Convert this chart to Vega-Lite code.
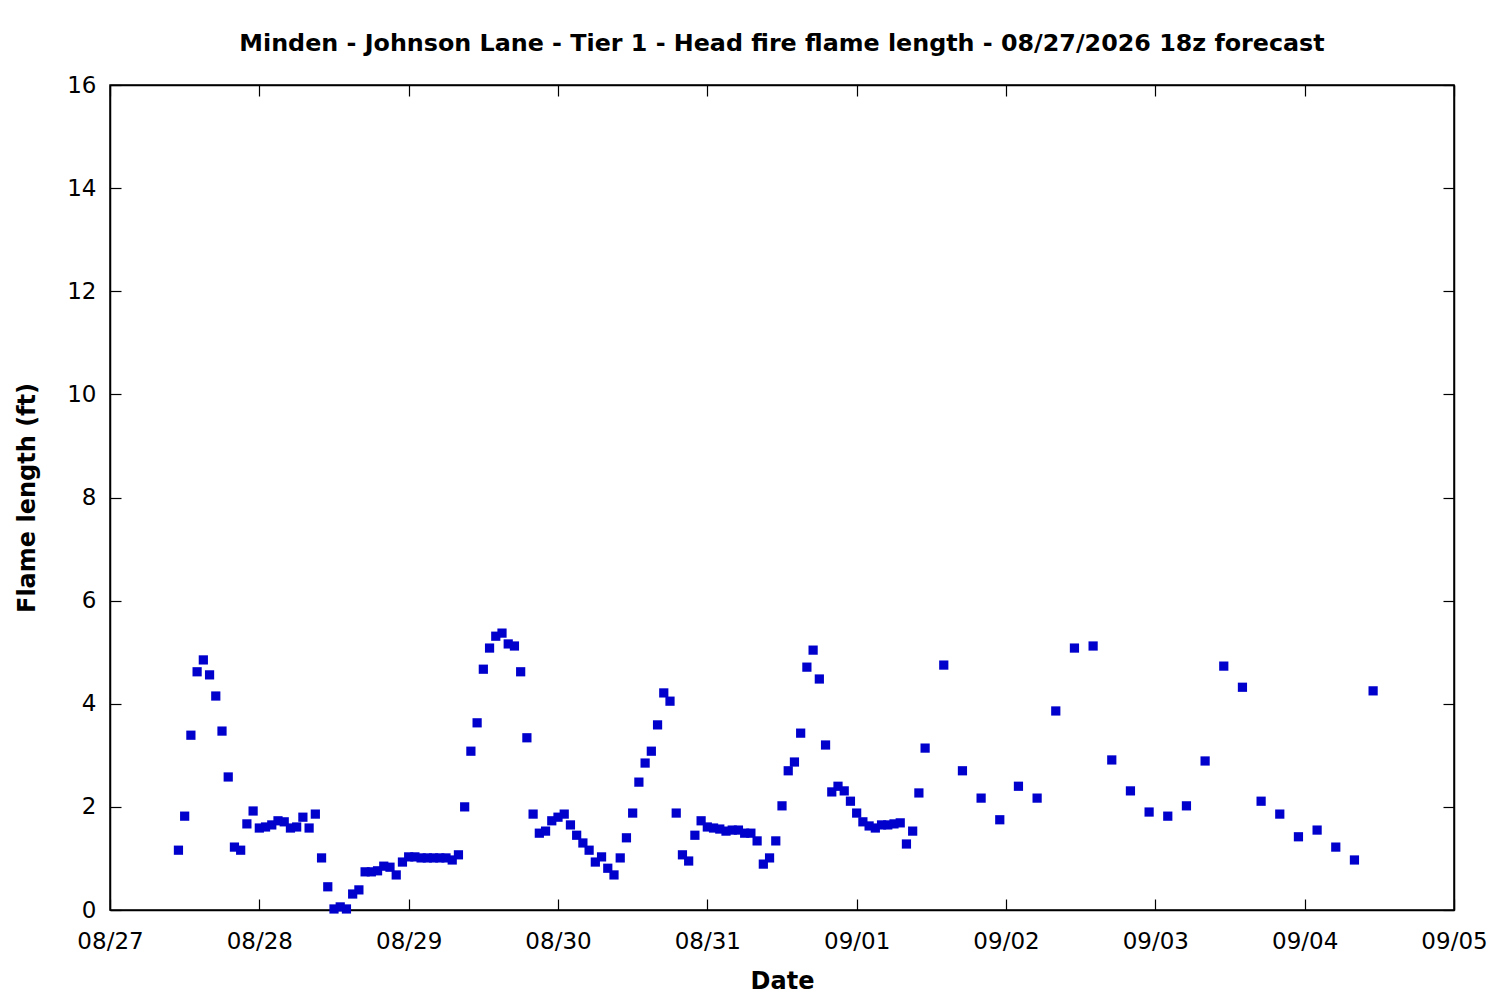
{
  "$schema": "https://vega.github.io/schema/vega-lite/v6.json",
  "autosize": "none",
  "width": 1344,
  "height": 825,
  "padding": {"left": 110, "top": 85, "right": 46, "bottom": 90},
  "background": "white",
  "title": {
    "text": "Minden - Johnson Lane - Tier 1 - Head fire flame length - 08/27/2026 18z forecast",
    "font": "DejaVu Sans",
    "fontSize": 23.8,
    "fontWeight": "bold",
    "color": "black",
    "anchor": "middle",
    "offset": 18
  },
  "data": {
    "values": [
      {"time": "2026-08-27T11:00", "flame": 1.16},
      {"time": "2026-08-27T12:00", "flame": 1.82},
      {"time": "2026-08-27T13:00", "flame": 3.39},
      {"time": "2026-08-27T14:00", "flame": 4.62},
      {"time": "2026-08-27T15:00", "flame": 4.85},
      {"time": "2026-08-27T16:00", "flame": 4.56},
      {"time": "2026-08-27T17:00", "flame": 4.15},
      {"time": "2026-08-27T18:00", "flame": 3.47},
      {"time": "2026-08-27T19:00", "flame": 2.58},
      {"time": "2026-08-27T20:00", "flame": 1.22},
      {"time": "2026-08-27T21:00", "flame": 1.16},
      {"time": "2026-08-27T22:00", "flame": 1.67},
      {"time": "2026-08-27T23:00", "flame": 1.92},
      {"time": "2026-08-28T00:00", "flame": 1.59},
      {"time": "2026-08-28T01:00", "flame": 1.61},
      {"time": "2026-08-28T02:00", "flame": 1.65},
      {"time": "2026-08-28T03:00", "flame": 1.73},
      {"time": "2026-08-28T04:00", "flame": 1.71},
      {"time": "2026-08-28T05:00", "flame": 1.59},
      {"time": "2026-08-28T06:00", "flame": 1.61},
      {"time": "2026-08-28T07:00", "flame": 1.80},
      {"time": "2026-08-28T08:00", "flame": 1.59},
      {"time": "2026-08-28T09:00", "flame": 1.86},
      {"time": "2026-08-28T10:00", "flame": 1.01},
      {"time": "2026-08-28T11:00", "flame": 0.45},
      {"time": "2026-08-28T12:00", "flame": 0.02},
      {"time": "2026-08-28T13:00", "flame": 0.06},
      {"time": "2026-08-28T14:00", "flame": 0.02},
      {"time": "2026-08-28T15:00", "flame": 0.31},
      {"time": "2026-08-28T16:00", "flame": 0.39},
      {"time": "2026-08-28T17:00", "flame": 0.74},
      {"time": "2026-08-28T18:00", "flame": 0.74},
      {"time": "2026-08-28T19:00", "flame": 0.76},
      {"time": "2026-08-28T20:00", "flame": 0.85},
      {"time": "2026-08-28T21:00", "flame": 0.83},
      {"time": "2026-08-28T22:00", "flame": 0.68},
      {"time": "2026-08-28T23:00", "flame": 0.93},
      {"time": "2026-08-29T00:00", "flame": 1.03},
      {"time": "2026-08-29T01:00", "flame": 1.03},
      {"time": "2026-08-29T02:00", "flame": 1.01},
      {"time": "2026-08-29T03:00", "flame": 1.01},
      {"time": "2026-08-29T04:00", "flame": 1.01},
      {"time": "2026-08-29T05:00", "flame": 1.01},
      {"time": "2026-08-29T06:00", "flame": 1.01},
      {"time": "2026-08-29T07:00", "flame": 0.97},
      {"time": "2026-08-29T08:00", "flame": 1.07},
      {"time": "2026-08-29T09:00", "flame": 2.00},
      {"time": "2026-08-29T10:00", "flame": 3.08},
      {"time": "2026-08-29T11:00", "flame": 3.63},
      {"time": "2026-08-29T12:00", "flame": 4.67},
      {"time": "2026-08-29T13:00", "flame": 5.08},
      {"time": "2026-08-29T14:00", "flame": 5.31},
      {"time": "2026-08-29T15:00", "flame": 5.37},
      {"time": "2026-08-29T16:00", "flame": 5.16},
      {"time": "2026-08-29T17:00", "flame": 5.12},
      {"time": "2026-08-29T18:00", "flame": 4.62},
      {"time": "2026-08-29T19:00", "flame": 3.34},
      {"time": "2026-08-29T20:00", "flame": 1.86},
      {"time": "2026-08-29T21:00", "flame": 1.49},
      {"time": "2026-08-29T22:00", "flame": 1.53},
      {"time": "2026-08-29T23:00", "flame": 1.73},
      {"time": "2026-08-30T00:00", "flame": 1.80},
      {"time": "2026-08-30T01:00", "flame": 1.86},
      {"time": "2026-08-30T02:00", "flame": 1.65},
      {"time": "2026-08-30T03:00", "flame": 1.45},
      {"time": "2026-08-30T04:00", "flame": 1.30},
      {"time": "2026-08-30T05:00", "flame": 1.16},
      {"time": "2026-08-30T06:00", "flame": 0.93},
      {"time": "2026-08-30T07:00", "flame": 1.03},
      {"time": "2026-08-30T08:00", "flame": 0.81},
      {"time": "2026-08-30T09:00", "flame": 0.68},
      {"time": "2026-08-30T10:00", "flame": 1.01},
      {"time": "2026-08-30T11:00", "flame": 1.40},
      {"time": "2026-08-30T12:00", "flame": 1.88},
      {"time": "2026-08-30T13:00", "flame": 2.48},
      {"time": "2026-08-30T14:00", "flame": 2.85},
      {"time": "2026-08-30T15:00", "flame": 3.08},
      {"time": "2026-08-30T16:00", "flame": 3.59},
      {"time": "2026-08-30T17:00", "flame": 4.21},
      {"time": "2026-08-30T18:00", "flame": 4.05},
      {"time": "2026-08-30T19:00", "flame": 1.88},
      {"time": "2026-08-30T20:00", "flame": 1.07},
      {"time": "2026-08-30T21:00", "flame": 0.95},
      {"time": "2026-08-30T22:00", "flame": 1.45},
      {"time": "2026-08-30T23:00", "flame": 1.73},
      {"time": "2026-08-31T00:00", "flame": 1.61},
      {"time": "2026-08-31T01:00", "flame": 1.59},
      {"time": "2026-08-31T02:00", "flame": 1.57},
      {"time": "2026-08-31T03:00", "flame": 1.53},
      {"time": "2026-08-31T04:00", "flame": 1.55},
      {"time": "2026-08-31T05:00", "flame": 1.55},
      {"time": "2026-08-31T06:00", "flame": 1.49},
      {"time": "2026-08-31T07:00", "flame": 1.49},
      {"time": "2026-08-31T08:00", "flame": 1.34},
      {"time": "2026-08-31T09:00", "flame": 0.89},
      {"time": "2026-08-31T10:00", "flame": 1.01},
      {"time": "2026-08-31T11:00", "flame": 1.34},
      {"time": "2026-08-31T12:00", "flame": 2.02},
      {"time": "2026-08-31T13:00", "flame": 2.70},
      {"time": "2026-08-31T14:00", "flame": 2.87},
      {"time": "2026-08-31T15:00", "flame": 3.43},
      {"time": "2026-08-31T16:00", "flame": 4.71},
      {"time": "2026-08-31T17:00", "flame": 5.04},
      {"time": "2026-08-31T18:00", "flame": 4.48},
      {"time": "2026-08-31T19:00", "flame": 3.20},
      {"time": "2026-08-31T20:00", "flame": 2.29},
      {"time": "2026-08-31T21:00", "flame": 2.40},
      {"time": "2026-08-31T22:00", "flame": 2.31},
      {"time": "2026-08-31T23:00", "flame": 2.11},
      {"time": "2026-09-01T00:00", "flame": 1.88},
      {"time": "2026-09-01T01:00", "flame": 1.71},
      {"time": "2026-09-01T02:00", "flame": 1.63},
      {"time": "2026-09-01T03:00", "flame": 1.59},
      {"time": "2026-09-01T04:00", "flame": 1.65},
      {"time": "2026-09-01T05:00", "flame": 1.65},
      {"time": "2026-09-01T06:00", "flame": 1.67},
      {"time": "2026-09-01T07:00", "flame": 1.69},
      {"time": "2026-09-01T08:00", "flame": 1.28},
      {"time": "2026-09-01T09:00", "flame": 1.53},
      {"time": "2026-09-01T10:00", "flame": 2.27},
      {"time": "2026-09-01T11:00", "flame": 3.14},
      {"time": "2026-09-01T14:00", "flame": 4.75},
      {"time": "2026-09-01T17:00", "flame": 2.70},
      {"time": "2026-09-01T20:00", "flame": 2.17},
      {"time": "2026-09-01T23:00", "flame": 1.75},
      {"time": "2026-09-02T02:00", "flame": 2.40},
      {"time": "2026-09-02T05:00", "flame": 2.17},
      {"time": "2026-09-02T08:00", "flame": 3.86},
      {"time": "2026-09-02T11:00", "flame": 5.08},
      {"time": "2026-09-02T14:00", "flame": 5.12},
      {"time": "2026-09-02T17:00", "flame": 2.91},
      {"time": "2026-09-02T20:00", "flame": 2.31},
      {"time": "2026-09-02T23:00", "flame": 1.90},
      {"time": "2026-09-03T02:00", "flame": 1.82},
      {"time": "2026-09-03T05:00", "flame": 2.02},
      {"time": "2026-09-03T08:00", "flame": 2.89},
      {"time": "2026-09-03T11:00", "flame": 4.73},
      {"time": "2026-09-03T14:00", "flame": 4.32},
      {"time": "2026-09-03T17:00", "flame": 2.11},
      {"time": "2026-09-03T20:00", "flame": 1.86},
      {"time": "2026-09-03T23:00", "flame": 1.42},
      {"time": "2026-09-04T02:00", "flame": 1.55},
      {"time": "2026-09-04T05:00", "flame": 1.22},
      {"time": "2026-09-04T08:00", "flame": 0.97},
      {"time": "2026-09-04T11:00", "flame": 4.25}
    ]
  },
  "layer": [
    {
      "mark": {"type": "point", "shape": "square", "filled": true, "size": 85, "color": "#0000cc", "opacity": 1},
      "encoding": {
        "x": {
          "field": "time",
          "type": "temporal",
          "scale": {"domain": ["2026-08-27T00:00", "2026-09-05T00:00"], "nice": false},
          "axis": {
            "title": "Date",
            "orient": "bottom",
            "format": "%m/%d",
            "tickCount": {"interval": "day", "step": 1},
            "labelFlush": false,
            "labelOverlap": false
          }
        },
        "y": {
          "field": "flame",
          "type": "quantitative",
          "scale": {"domain": [0, 16], "nice": false, "zero": true},
          "axis": {"title": "Flame length (ft)", "orient": "left", "values": [0, 2, 4, 6, 8, 10, 12, 14, 16]}
        }
      }
    },
    {
      "mark": {"type": "point", "shape": "square", "filled": true, "size": 85, "opacity": 0},
      "encoding": {
        "x": {
          "field": "time",
          "type": "temporal",
          "axis": {"orient": "top", "title": null, "labels": false, "tickCount": {"interval": "day", "step": 1}}
        },
        "y": {
          "field": "flame",
          "type": "quantitative",
          "axis": {"orient": "right", "title": null, "labels": false, "values": [0, 2, 4, 6, 8, 10, 12, 14, 16]}
        }
      }
    }
  ],
  "resolve": {"axis": {"x": "independent", "y": "independent"}},
  "config": {
    "view": {"stroke": "black", "strokeWidth": 1.5},
    "font": "DejaVu Sans",
    "axis": {
      "grid": false,
      "domainColor": "black",
      "domainWidth": 1.5,
      "tickColor": "black",
      "tickWidth": 1.2,
      "tickSize": -11,
      "labelFont": "DejaVu Sans",
      "labelFontSize": 23,
      "labelColor": "black",
      "titleFont": "DejaVu Sans",
      "titleFontSize": 24,
      "titleFontWeight": "bold",
      "titleColor": "black"
    },
    "axisBottom": {"labelPadding": 31, "titlePadding": 16},
    "axisLeft": {"labelPadding": 25, "titlePadding": 27}
  }
}
